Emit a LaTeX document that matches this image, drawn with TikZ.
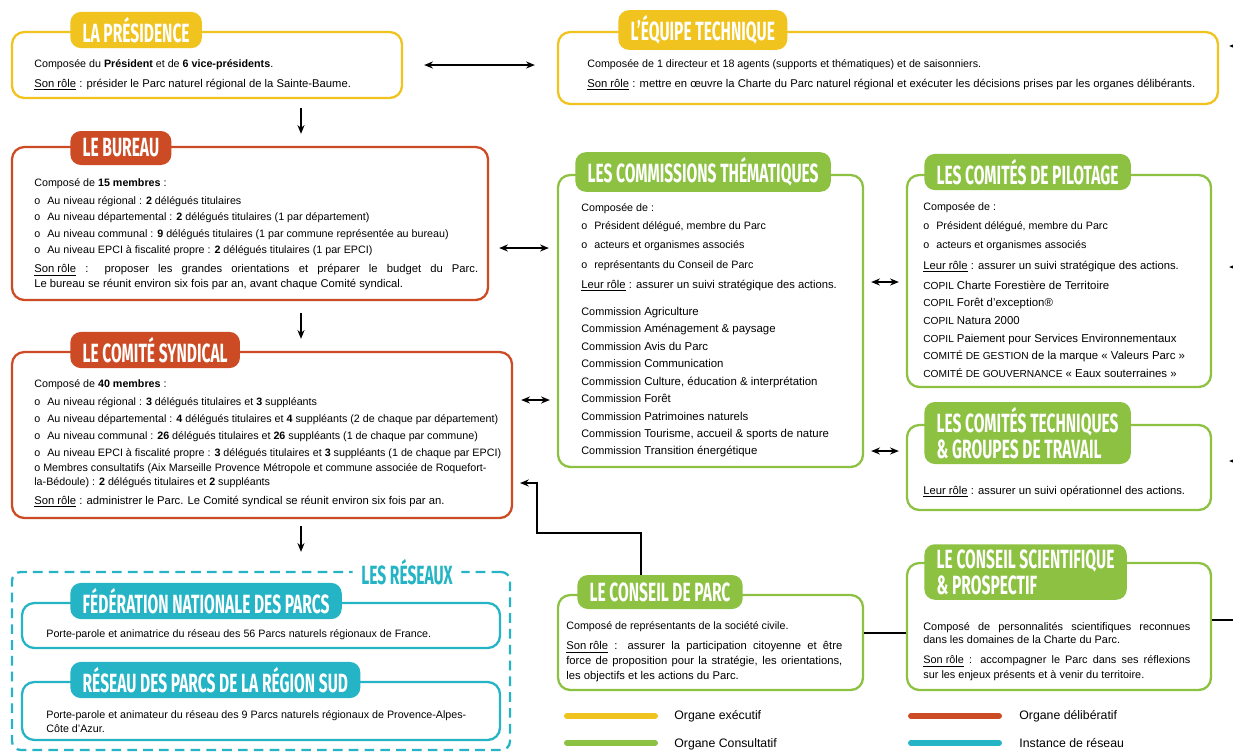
\documentclass[tikz,border=0pt]{standalone}
\usepackage{fontspec}
\setmainfont{Liberation Sans}
\newfontfamily\titlefont[FakeStretch=0.59]{Fira Sans}
\usetikzlibrary{fit,arrows.meta}

\definecolor{jaune}{HTML}{F0C31E}
\definecolor{rouge}{HTML}{CD4B24}
\definecolor{vert}{HTML}{8CC142}
\definecolor{bleu}{HTML}{24B4C5}

\newcommand\puce{o\hspace{4pt}}
\newcommand\comm[1]{{\fontsize{6.2}{8}\selectfont Commission} {\fontsize{6.5}{8}\selectfont #1}}
\newcommand\copil[2]{{\fontsize{5.8}{8}\selectfont #1} {\fontsize{6.5}{8}\selectfont #2}}

\tikzstyle{Frame}=[draw, rounded corners=7pt, line width=1.3pt, inner sep=0pt, fill=white]
\tikzstyle{Pill}=[rounded corners=6pt, text=white, anchor=west, align=left, inner xsep=7pt, inner ysep=3pt, minimum height=0.68cm, font=\titlefont\bfseries\fontsize{15}{14.7}\selectfont]
\tikzstyle{Body}=[anchor=base west, yshift=-0.06cm, inner sep=0pt, font=\fontsize{6.1}{8.5}\selectfont]
\tikzstyle{Role}=[Body, font=\fontsize{6.4}{8.5}\selectfont]
\tikzstyle{Para}=[anchor=north west, inner sep=0pt, align=justify, font=\fontsize{6.4}{8.5}\selectfont]
\tikzstyle{Key}=[Body, font=\fontsize{7}{8.5}\selectfont]
\tikzstyle{Link}=[line width=0.9pt, black]
\tikzstyle{Both}=[Link, {Stealth[length=5pt,width=4pt]}-{Stealth[length=5pt,width=4pt]}]
\tikzstyle{One}=[Link, -{Stealth[length=5pt,width=4pt]}]
\tikzstyle{Legend}=[line width=3.4pt, line cap=round]

\begin{document}
\begin{tikzpicture}[x=0.02cm, y=-0.02cm]
    \useasboundingbox[fill=white] (0,0) rectangle (1233,752);

    % frames
    \node[Frame, draw=jaune, fit={(12,32) (402,98)}] (pres) {};
    \node[Frame, draw=jaune, fit={(558,32) (1218,104)}] (equipe) {};
    \node[Frame, draw=rouge, fit={(12,147) (488,300)}] (bureau) {};
    \node[Frame, draw=rouge, fit={(12,352) (512,518)}] (synd) {};
    \node[Frame, draw=bleu, dash pattern=on 5.5pt off 3.5pt, rounded corners=5pt, fit={(12,572) (510,750)}] (reseaux) {};
    \node[Frame, draw=bleu, fit={(22,603) (500,648)}] (fede) {};
    \node[Frame, draw=bleu, fit={(22,682) (500,740)}] (sud) {};
    \node[Frame, draw=vert, fit={(558,175) (863,467)}] (comm) {};
    \node[Frame, draw=vert, fit={(907,175) (1211,387)}] (pilot) {};
    \node[Frame, draw=vert, fit={(907,425) (1211,510)}] (tech) {};
    \node[Frame, draw=vert, fit={(558,595) (863,690)}] (cparc) {};
    \node[Frame, draw=vert, fit={(907,563) (1211,690)}] (cscient) {};

    % titles
    \path
    (70,30) node[Pill, fill=jaune] (presT) {LA PRÉSIDENCE}
    (618,30) node[Pill, fill=jaune] (equipeT) {L’ÉQUIPE TECHNIQUE}
    (70,148) node[Pill, fill=rouge] (bureauT) {LE BUREAU}
    (70,350) node[Pill, fill=rouge] (syndT) {LE COMITÉ SYNDICAL}
    (575,172) node[Pill, fill=vert] (commT) {LES COMMISSIONS THÉMATIQUES}
    (924,172) node[Pill, fill=vert] (pilotT) {LES COMITÉS DE PILOTAGE}
    (924,433) node[Pill, fill=vert] (techT) {LES COMITÉS TECHNIQUES\\\& GROUPES DE TRAVAIL}
    (577,592) node[Pill, fill=vert] (cparcT) {LE CONSEIL DE PARC}
    (924,572) node[Pill, fill=vert] (cscientT) {LE CONSEIL SCIENTIFIQUE\\\& PROSPECTIF}
    (70,601) node[Pill, fill=bleu] (fedeT) {FÉDÉRATION NATIONALE DES PARCS}
    (70,680) node[Pill, fill=bleu] (sudT) {RÉSEAU DES PARCS DE LA RÉGION SUD};
    \node[Pill, anchor=center, fill=white, text=bleu, inner xsep=5pt] (reseauxT) at (407,572) {LES RÉSEAUX};

    % executive bodies
    \path
    (34,64) node[Body] (presA) {Composée du \textbf{Président} et de \textbf{6 vice-présidents}.}
    (34,84) node[Role] (presB) {\underline{Son rôle} : présider le Parc naturel régional de la Sainte-Baume.}
    (587,64) node[Body] (equipeA) {Composée de 1 directeur et 18 agents (supports et thématiques) et de saisonniers.}
    (587,84) node[Role] (equipeB) {\underline{Son rôle} : mettre en œuvre la Charte du Parc naturel régional et exécuter les décisions prises par les organes délibérants.};

    % deliberative bodies
    \path
    (34,183) node[Body] (bureauA) {Composé de \textbf{15 membres} :}
    (34,201) node[Body] (bureauB) {\puce Au niveau régional : \textbf{2} délégués titulaires}
    (34,217) node[Body] (bureauC) {\puce Au niveau départemental : \textbf{2} délégués titulaires (1 par département)}
    (34,234) node[Body] (bureauD) {\puce Au niveau communal : \textbf{9} délégués titulaires (1 par commune représentée au bureau)}
    (34,250) node[Body] (bureauE) {\puce Au niveau EPCI à fiscalité propre : \textbf{2} délégués titulaires (1 par EPCI)}
    (34,264) node[Para, text width=8.88cm] (bureauF) {\underline{Son rôle} : proposer les grandes orientations et préparer le budget du Parc.\linebreak Le bureau se réunit environ six fois par an, avant chaque Comité syndical.};

    \path
    (34,384) node[Body] (syndA) {Composé de \textbf{40 membres} :}
    (34,402) node[Body] (syndB) {\puce Au niveau régional : \textbf{3} délégués titulaires et \textbf{3} suppléants}
    (34,419) node[Body] (syndC) {\puce Au niveau départemental : \textbf{4} délégués titulaires et \textbf{4} suppléants (2 de chaque par département)}
    (34,436) node[Body] (syndD) {\puce Au niveau communal : \textbf{26} délégués titulaires et \textbf{26} suppléants (1 de chaque par commune)}
    (34,453) node[Body] (syndE) {\puce Au niveau EPCI à fiscalité propre : \textbf{3} délégués titulaires et \textbf{3} suppléants (1 de chaque par EPCI)}
    (34,468) node[Body] (syndF) {o Membres consultatifs (Aix Marseille Provence Métropole et commune associée de Roquefort-}
    (34,482) node[Body] (syndG) {la-Bédoule) : \textbf{2} délégués titulaires et \textbf{2} suppléants}
    (34,501) node[Role] (syndH) {\underline{Son rôle} : administrer le Parc. Le Comité syndical se réunit environ six fois par an.};

    % consultative bodies
    \path
    (581,208) node[Body] (commA) {Composée de :}
    (581,226) node[Body] (commB) {\puce Président délégué, membre du Parc}
    (581,245) node[Body] (commC) {\puce acteurs et organismes associés}
    (581,265) node[Body] (commD) {\puce représentants du Conseil de Parc}
    (581,285) node[Role] (commE) {\underline{Leur rôle} : assurer un suivi stratégique des actions.}
    (581,312) node[Body] (c1) {\comm{Agriculture}}
    (581,329) node[Body] (c2) {\comm{Aménagement \& paysage}}
    (581,347) node[Body] (c3) {\comm{Avis du Parc}}
    (581,364) node[Body] (c4) {\comm{Communication}}
    (581,382) node[Body] (c5) {\comm{Culture, éducation \& interprétation}}
    (581,399) node[Body] (c6) {\comm{Forêt}}
    (581,417) node[Body] (c7) {\comm{Patrimoines naturels}}
    (581,434) node[Body] (c8) {\comm{Tourisme, accueil \& sports de nature}}
    (581,451) node[Body] (c9) {\comm{Transition énergétique}};

    \path
    (923,207) node[Body] (pilotA) {Composée de :}
    (923,226) node[Body] (pilotB) {\puce Président délégué, membre du Parc}
    (923,245) node[Body] (pilotC) {\puce acteurs et organismes associés}
    (923,266) node[Role] (pilotD) {\underline{Leur rôle} : assurer un suivi stratégique des actions.}
    (923,286) node[Body] (p1) {\copil{COPIL}{Charte Forestière de Territoire}}
    (923,303) node[Body] (p2) {\copil{COPIL}{Forêt d’exception®}}
    (923,321) node[Body] (p3) {\copil{COPIL}{Natura 2000}}
    (923,339) node[Body] (p4) {\copil{COPIL}{Paiement pour Services Environnementaux}}
    (923,356) node[Body] (p5) {\copil{COMITÉ DE GESTION}{de la marque « Valeurs Parc »}}
    (923,374) node[Body] (p6) {\copil{COMITÉ DE GOUVERNANCE}{« Eaux souterraines »}}
    (923,491) node[Role] (techA) {\underline{Leur rôle} : assurer un suivi opérationnel des actions.};

    \path
    (566,626) node[Body] (cparcA) {Composé de représentants de la société civile.}
    (566,641) node[Para, text width=5.52cm] (cparcB) {\underline{Son rôle} : assurer la participation citoyenne et être\linebreak force de proposition pour la stratégie, les orientations,\linebreak les objectifs et les actions du Parc.}
    (923,622) node[Para, text width=5.34cm, font=\fontsize{6.2}{7.4}\selectfont] (cscientA) {Composé de personnalités scientifiques reconnues\linebreak dans les domaines de la Charte du Parc.}
    (923,655) node[Para, text width=5.34cm, font=\fontsize{6.2}{8.5}\selectfont] (cscientB) {\underline{Son rôle} : accompagner le Parc dans ses réflexions\linebreak sur les enjeux présents et à venir du territoire.};

    % networks
    \path
    (46,634) node[Body] (fedeA) {Porte-parole et animatrice du réseau des 56 Parcs naturels régionaux de France.}
    (46,715) node[Body] (sudA) {Porte-parole et animateur du réseau des 9 Parcs naturels régionaux de Provence-Alpes-}
    (46,729) node[Body] (sudB) {Côte d’Azur.};

    % links
    \draw[One, shorten <=0.18cm, shorten >=0.24cm] (pres.south -| 301,0) -- (bureau.north -| 301,0);
    \draw[One, shorten <=0.24cm, shorten >=0.24cm] (bureau.south -| 301,0) -- (synd.north -| 301,0);
    \draw[One, shorten <=0.14cm, shorten >=0.38cm] (synd.south -| 301,0) -- (reseaux.north -| 301,0);
    \draw[Both, shorten <=0.42cm, shorten >=0.44cm] (pres.east) -- (pres.east -| equipe.west);
    \draw[Both, shorten <=0.2cm, shorten >=0.16cm] (bureau.east |- 0,248) -- (comm.west |- 0,248);
    \draw[Both, shorten <=0.16cm, shorten >=0.14cm] (synd.east |- 0,400) -- (comm.west |- 0,400);
    \draw[Both, shorten <=0.14cm, shorten >=0.14cm] (comm.east |- 0,282) -- (pilot.west |- 0,282);
    \draw[Both, shorten <=0.14cm, shorten >=0.14cm] (comm.east |- 0,451) -- (tech.west |- 0,451);

    \coordinate (coude) at (537,533);
    \coordinate (syndIn) at (520,483);
    \draw[One, line width=1.2pt] ([xshift=1.28cm]cparcT.north west) |- (coude) |- (syndIn);
    \draw[Link, line width=1.2pt] (cparc.east |- 0,633) -- (cscient.west |- 0,633);

    % links leaving the page
    \coordinate (equipeOut) at (1250,46);
    \coordinate (pilotOut) at (1250,267);
    \coordinate (techOut) at (1250,461);
    \coordinate (cscientOut) at (1250,620);
    \draw[One, shorten >=0.2cm] (equipeOut) -- (equipeOut -| equipe.east);
    \draw[One, shorten >=0.34cm] (pilotOut) -- (pilotOut -| pilot.east);
    \draw[One, shorten >=0.34cm] (techOut) -- (techOut -| tech.east);
    \draw[Link, line width=1.2pt] (cscientOut -| cscient.east) -- (cscientOut);

    % legend
    \draw[Legend, jaune] (567,716) -- (655,716);
    \draw[Legend, rouge] (911,716) -- (999,716);
    \draw[Legend, vert] (567,743) -- (655,743);
    \draw[Legend, bleu] (911,743) -- (999,743);
    \path
    (674,716) node[Key] (legExec) {Organe exécutif}
    (1019,716) node[Key] (legDelib) {Organe délibératif}
    (674,744) node[Key] (legCons) {Organe Consultatif}
    (1019,744) node[Key] (legRes) {Instance de réseau};
\end{tikzpicture}
\end{document}
